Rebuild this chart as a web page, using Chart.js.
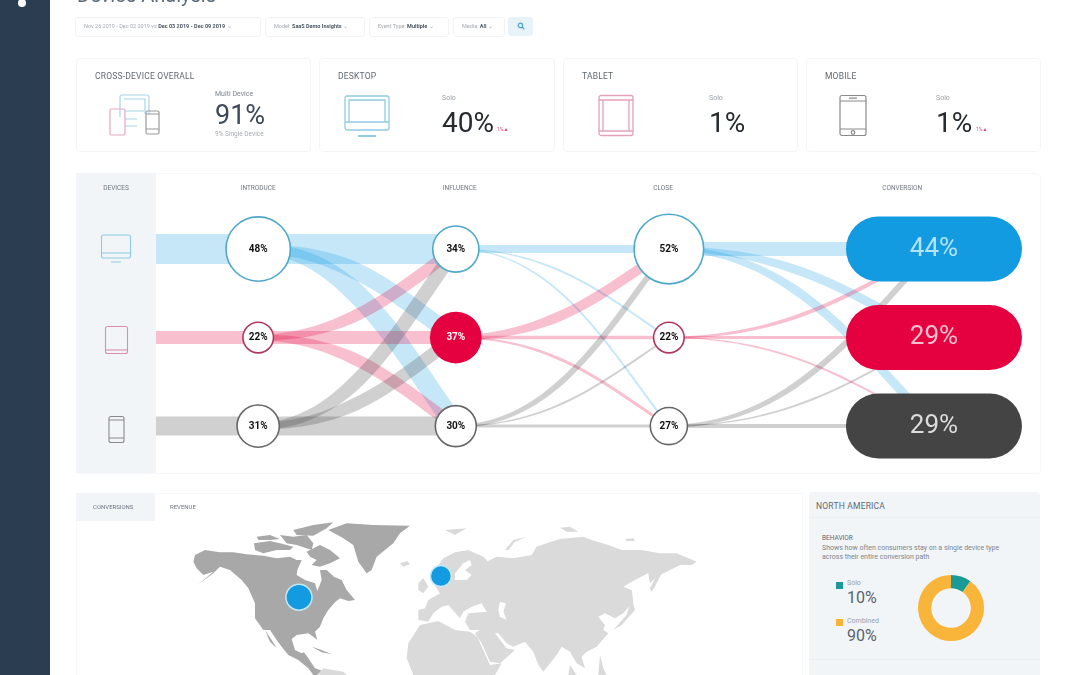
<!DOCTYPE html>
<html>
<head>
<meta charset="utf-8">
<title>Device Analysis</title>
<script src="https://cdn.jsdelivr.net/npm/chart.js@4"></script>
<style>
  html, body { margin: 0; padding: 0; width: 1080px; height: 675px; overflow: hidden; background: #fff; }
  #page { position: absolute; left: 0; top: 0; width: 1080px; height: 675px; overflow: hidden; font-family: Roboto, sans-serif; filter: blur(0.45px); }
  .box, .t, canvas, svg { position: absolute; }
  .t { white-space: nowrap; line-height: 1; }
  .card { top: 58px; height: 92px; width: 233px; border: 1px solid #f4f5f7; border-radius: 4px; }
  .pill { top: 17px; height: 18px; border: 1px solid #f1f3f5; border-radius: 3px; }
  .pill span { position: absolute; left: 8px; top: 6px; font-size: 5.5px; line-height: 1; color: #a2a9b1; white-space: nowrap; }
  .pill b { color: #4b5663; font-weight: 700; }
  .head { font-size: 8.5px; color: #5f6873; letter-spacing: .2px; }
  .solo { font-size: 7px; color: #9aa1a8; }
  .big { font-size: 28px; color: #262b30; }
  .delta { font-size: 5px; color: #e0476f; }
</style>
</head>
<body>
<div id="page">
  <div class="box" style="left:0;top:0;width:50px;height:675px;background:#2b3d50"></div>
  <div class="box" style="left:18px;top:-1px;width:8px;height:8px;border-radius:4px;background:#fff"></div>
  <div class="t" style="left:77px;top:-15px;font-size:20px;color:#5b6b7b">Device Analysis</div>

  <div class="box pill" style="left:75px;width:184px"><span>Nov 26 2019 - Dec 02 2019 vs <b>Dec 03 2019 - Dec 09 2019</b> &#8964;</span></div>
  <div class="box pill" style="left:265px;width:98px"><span>Model: <b>SaaS Demo Insights</b> &#8964;</span></div>
  <div class="box pill" style="left:369px;width:78px"><span>Event Type: <b>Multiple</b> &#8964;</span></div>
  <div class="box pill" style="left:453px;width:50px"><span>Media: <b>All</b> &#8964;</span></div>
  <div class="box" style="left:508px;top:17px;width:25px;height:19px;border-radius:3px;background:#e8f3f9"></div>
  <svg style="left:517px;top:22px" width="8" height="8" fill="none" stroke="#4aa3cf" stroke-width="1.2"><circle cx="3.4" cy="3.4" r="2.2"/><path d="M5 5l2.4 2.4"/></svg>

  <div class="box card" style="left:76px"></div>
  <div class="box card" style="left:319px;width:234px"></div>
  <div class="box card" style="left:563px"></div>
  <div class="box card" style="left:806px"></div>

  <div class="t head" style="left:95px;top:72px">CROSS-DEVICE OVERALL</div>
  <div class="t solo" style="left:215px;top:91px;color:#7d858d">Multi Device</div>
  <div class="t" style="left:215px;top:102px;font-size:27px;color:#3b4a5a">91%</div>
  <div class="t" style="left:215px;top:131px;font-size:6.5px;color:#a5abb1">9% Single Device</div>
  <svg style="left:105px;top:94px" width="60" height="44" fill="none" stroke-width="1.2">
    <path d="M15 23V3a2 2 0 0 1 2-2h25a2 2 0 0 1 2 2v17M19 5h21v15M20 17h19M20 25h12M20 32h12" stroke="#a8d6ec"/>
    <rect x="5" y="15" width="15" height="26" rx="1.5" stroke="#e3a9bf"/>
    <rect x="41" y="17" width="13" height="23" rx="1.5" stroke="#9a9a9a"/>
    <path d="M41 20h13M41 35h13" stroke="#9a9a9a"/>
  </svg>

  <div class="t head" style="left:338px;top:72px">DESKTOP</div>
  <div class="t solo" style="left:442px;top:95px">Solo</div>
  <div class="t big" style="left:442px;top:109px">40%</div>
  <div class="t delta" style="left:497px;top:127px">1%&#9650;</div>
  <svg style="left:344px;top:95px" width="46" height="44" fill="none" stroke="#8fcbe4" stroke-width="1.3">
    <rect x="1" y="1" width="44" height="34" rx="2"/><path d="M5 5h36v22H5zM1 27h44" />
    <path d="M14 41h18" stroke-width="2"/>
  </svg>

  <div class="t head" style="left:582px;top:72px">TABLET</div>
  <div class="t solo" style="left:709px;top:95px">Solo</div>
  <div class="t big" style="left:709px;top:109px">1%</div>
  <svg style="left:598px;top:94px" width="37" height="44" fill="none" stroke="#e3a3bb" stroke-width="1.3">
    <rect x="1" y="1.5" width="34" height="40" rx="2"/><path d="M1 6h34M1 37h34M5 6v31M31 6v31"/>
  </svg>

  <div class="t head" style="left:825px;top:72px">MOBILE</div>
  <div class="t solo" style="left:936px;top:95px">Solo</div>
  <div class="t big" style="left:936px;top:109px">1%</div>
  <div class="t delta" style="left:976px;top:127px">1%&#9650;</div>
  <svg style="left:839px;top:94px" width="28" height="44" fill="none" stroke="#8a8a8a" stroke-width="1.2">
    <rect x="1" y="1.5" width="26" height="40" rx="2"/><path d="M1 7h26M1 35h26M10 4.2h8"/><circle cx="14" cy="38.5" r="1.8"/>
  </svg>

  <div class="box" style="left:76px;top:173px;width:963px;height:299px;border:1px solid #f6f7f8;border-radius:4px"></div>
  <div class="box" style="left:76px;top:173px;width:80px;height:300px;background:#f1f5f8"></div>
  <svg style="left:100px;top:233px" width="32" height="32" fill="none" stroke="#8fcbe4" stroke-width="1.1">
    <rect x="1.5" y="2" width="29" height="23" rx="2"/><path d="M2 20h28M11 29h10"/>
  </svg>
  <svg style="left:104px;top:325px" width="25" height="30" fill="none" stroke="#dc8fac" stroke-width="1.1">
    <rect x="1.5" y="1.5" width="22" height="27" rx="2"/><path d="M2 25h21"/>
  </svg>
  <svg style="left:107px;top:415px" width="20" height="29" fill="none" stroke="#8a8a8a" stroke-width="1.1">
    <rect x="2" y="1.5" width="15" height="26" rx="2"/><path d="M2 5h15M2 23h15"/>
  </svg>
  <canvas id="flowChart" width="964" height="300" style="left:76px;top:173px"></canvas>

  <div class="box" style="left:76px;top:493px;width:725px;height:190px;border:1px solid #f7f8f9"></div>
  <div class="box" style="left:76px;top:493px;width:79px;height:28px;background:#f1f5f8"></div>
  <div class="t" style="left:93px;top:504px;font-size:6px;color:#6d7680">CONVERSIONS</div>
  <div class="t" style="left:170px;top:504px;font-size:6px;color:#6d7680">REVENUE</div>

  <svg style="left:0;top:0" width="1080" height="675">
    <g transform="translate(180 515) scale(.3333)" fill="#a8a8a8">
      <path d="M45 120L75 105 120 112 160 112 200 118 250 122 290 130 330 125 350 135 365 135 352 165 350 180 375 195 405 205 412 228 425 195 420 165 440 165 462 185 485 195 500 225 525 255 505 258 480 250 465 262 445 285 430 310 420 335 405 350 412 375 400 365 385 355 350 360 335 372 345 405 365 415 372 412 385 430 405 460 435 470 430 480 400 480 385 460 355 435 325 420 305 395 290 375 270 345 250 345 225 310 225 265 205 220 185 195 150 165 120 155 100 175 55 208 100 170 70 180 50 160 40 140Z"/>
      <path d="M255 345L275 375 290 400 270 380Z"/>
      <path d="M222 85L270 78 300 85 340 95 330 105 290 105 250 115 225 105Z"/>
      <path d="M230 65L270 60 300 72 270 75 235 75Z"/>
      <path d="M300 60L340 65 380 60 400 85 395 105 350 90 320 85Z"/>
      <path d="M340 45L400 30 460 22 440 40 400 62 350 60Z"/>
      <path d="M380 110L420 90 450 105 480 130 450 145 420 155 395 150 410 135 390 125Z"/>
      <path d="M445 45L500 25 580 30 690 32 660 55 640 85 590 125 575 165 560 175 535 140 520 90 490 70Z"/>
      <path d="M395 395L425 405 455 418 425 412Z"/>
    </g>
    <g transform="translate(180 515) scale(.3333)" fill="#dadada">
      <path d="M430 460L490 470 500 480 410 480Z"/>
    </g>
    <g transform="translate(400 515) scale(.3333)" fill="#dadada">
      <path d="M55 285L75 280 85 255 120 235 100 205 100 170 130 130 165 112 205 105 250 125 265 140 240 150 290 125 340 130 395 120 410 95 440 85 480 72 550 65 575 75 625 90 665 105 725 105 780 115 830 115 890 140 875 150 840 150 800 170 770 185 750 205 745 175 705 195 670 215 695 225 700 260 670 295 645 310 615 295 595 305 615 330 610 345 625 355 590 395 560 410 545 425 555 460 530 445 510 410 485 395 470 420 430 470 415 450 400 410 375 380 340 395 320 385 295 355 285 355 320 400 345 405 300 445 270 440 245 385 225 355 240 345 210 345 195 320 205 295 260 290 245 265 215 275 190 290 180 310 145 270 125 275 100 295 85 320 55 315Z"/>
      <path d="M60 330L115 318 165 345 210 350 232 365 270 450 305 445 285 480 40 480 20 430 25 385Z"/>
      <path d="M0 145L22 138 30 148 10 155Z"/>
      <path d="M55 205L70 190 85 215 70 235 55 225Z"/>
      <path d="M640 345L680 300 695 250 705 285 665 330Z"/>
      <path d="M750 220L775 170 785 175 765 215 755 230Z"/>
      <path d="M135 45L200 40 165 60Z"/>
      <path d="M480 38L510 35 535 50 500 50Z"/>
      <path d="M315 105L340 75 380 65 345 80 325 105Z"/>
      <path d="M675 72L700 70 705 78 680 78Z"/>
      <path d="M600 420L610 460 620 480 595 480Z"/>
      <path d="M510 450L530 480 505 480Z"/>
      <path d="M300 260L318 265 310 290 320 315 300 305 295 285Z" fill="#fff"/>
      <path d="M165 175L190 145 210 135 215 150 195 165 215 180 200 195 165 195Z" fill="#fff"/>
    </g>
  </svg>
  <canvas id="mapChart" width="724" height="154" style="left:76px;top:521px"></canvas>

  <div class="box" style="left:809px;top:492px;width:231px;height:190px;background:#f1f5f8;border-radius:4px"></div>
  <div class="box" style="left:809px;top:517px;width:231px;height:1px;background:#eaeff3"></div>
  <div class="box" style="left:809px;top:659px;width:231px;height:1px;background:#eaeff3"></div>
  <div class="t" style="left:816px;top:502px;font-size:8.5px;color:#5f6873;letter-spacing:.2px">NORTH AMERICA</div>
  <div class="t" style="left:822px;top:535px;font-size:6.5px;color:#5f6873">BEHAVIOR</div>
  <div class="t" style="left:822px;top:545px;font-size:7px;color:#7d858d">Shows how often consumers stay on a single device type</div>
  <div class="t" style="left:822px;top:554px;font-size:7px;color:#7d858d">across their entire conversion path</div>
  <div class="box" style="left:836px;top:582px;width:7px;height:7px;background:#1a9a96"></div>
  <div class="t" style="left:847px;top:580px;font-size:7px;color:#9aa1a8">Solo</div>
  <div class="t" style="left:847px;top:590px;font-size:16px;color:#5a626a">10%</div>
  <div class="box" style="left:836px;top:619px;width:7px;height:7px;background:#f9b53a"></div>
  <div class="t" style="left:847px;top:618px;font-size:7px;color:#9aa1a8">Combined</div>
  <div class="t" style="left:847px;top:628px;font-size:16px;color:#5a626a">90%</div>
  <canvas id="behaviorChart" width="80" height="80" style="left:911px;top:568px"></canvas>
</div>

<script>
//Labels for charts
const stageLabels = ["DEVICES", "INTRODUCE", "INFLUENCE", "CLOSE", "CONVERSION"];
const behaviorLabels = ["Solo", "Combined"];

//Data for charts
const introduceShare = [48, 22, 31];
const influenceShare = [34, 37, 30];
const closeShare = [52, 22, 27];
const conversionShare = [44, 29, 29];
const behaviorShare = [10, 90];

//Flow widths, one row per device, one column per device it goes to
const entryFlows = [30, 13, 19];
const introduceFlows = [[30, 17, 20], [12, 13, 12], [14, 13, 19]];
const influenceFlows = [[8, 2, 2], [10, 3.5, 3], [6, 2, 3]];
const closeFlows = [[14, 9, 9], [4, 3, 2], [6, 2, 4]];

//Map markers
const markerLon = [-97, 2];
const markerLat = [45, 55];
const markerSize = [13, 10.5];

//Styles
const flowColors = ["rgba(18,155,224,.24)", "rgba(229,0,63,.25)", "rgba(68,68,68,.25)"];
const ringColors = ["#4ea9c9", "#b0365f", "#666666"];
const pillColors = ["#129be0", "#e5003f", "#444444"];
const pillText = ["#b4e3f8", "#f9c0d0", "#dcdcdc"];

//x axis runs 0-100 over the panel
const nodeX = [8.3, 18.9, 39.4, 61.5, 89];
const headerX = [4.15, 18.9, 39.8, 60.9, 85.7];

const nodeData = (values, stage) => values.map((v, row) => ({ x: nodeX[stage], y: row, share: v }));

const stageDataset = (values, stage) => ({
  type: "scatter",
  data: nodeData(values, stage),
  pointRadius: (ctx) => ctx.raw.share * 0.65 + 1,
  pointHoverRadius: (ctx) => ctx.raw.share * 0.65 + 1,
  pointBackgroundColor: (ctx) => (stage === 2 && ctx.dataIndex === 1 ? pillColors[1] : "#ffffff"),
  pointBorderColor: (ctx) => (stage === 2 && ctx.dataIndex === 1 ? pillColors[1] : ringColors[ctx.dataIndex]),
  pointBorderWidth: 1.6,
});

//Draws the ribbons under the nodes, curved ones pinch in at their source
const flowPlugin = {
  id: "flows",
  beforeDatasetsDraw(chart) {
    const { ctx, scales } = chart;
    const ribbon = (x0, row0, x1, row1, width, color) => {
      const a = scales.x.getPixelForValue(x0);
      const b = scales.x.getPixelForValue(x1);
      const y0 = scales.y.getPixelForValue(row0);
      const y1 = scales.y.getPixelForValue(row1);
      const c1 = a + (b - a) * 0.47;
      const c2 = a + (b - a) * 0.72;
      const c3 = y0 + (y1 - y0) * 0.57;
      const upper = [];
      const lower = [];
      for (let i = 0; i <= 30; i++) {
        const t = i / 30;
        const s = 1 - t;
        const px = s * s * s * a + 3 * s * s * t * c1 + 3 * s * t * t * c2 + t * t * t * b;
        const py = s * s * s * y0 + 3 * s * s * t * y0 + 3 * s * t * t * c3 + t * t * t * y1;
        const dx = 3 * s * s * (c1 - a) + 6 * s * t * (c2 - c1) + 3 * t * t * (b - c2);
        const dy = 3 * s * s * (y0 - y0) + 6 * s * t * (c3 - y0) + 3 * t * t * (y1 - c3);
        const len = Math.hypot(dx, dy) || 1;
        const half = (width / 2) * (row0 === row1 ? 1 : 0.45 + 0.55 * Math.min(1, t / 0.4));
        upper.push([px - (dy / len) * half, py + (dx / len) * half]);
        lower.push([px + (dy / len) * half, py - (dx / len) * half]);
      }
      ctx.beginPath();
      upper.concat(lower.reverse()).forEach((p, i) => (i ? ctx.lineTo(p[0], p[1]) : ctx.moveTo(p[0], p[1])));
      ctx.closePath();
      ctx.fillStyle = color;
      ctx.fill();
    };
    ctx.save();
    entryFlows.forEach((w, row) => ribbon(nodeX[0], row, nodeX[1], row, w, flowColors[row]));
    [introduceFlows, influenceFlows, closeFlows].forEach((flows, i) => {
      flows.forEach((widths, from) => {
        widths.forEach((w, to) => ribbon(nodeX[i + 1], from, nodeX[i + 2], to, w, flowColors[from]));
      });
    });
    ctx.restore();
  },
  afterDatasetsDraw(chart) {
    const { ctx } = chart;
    ctx.save();
    ctx.textAlign = "center";
    ctx.textBaseline = "middle";
    chart.data.datasets.forEach((ds, i) => {
      chart.getDatasetMeta(i).data.forEach((pt, row) => {
        const share = ds.data[row].share + "%";
        if (i === 3) {
          ctx.beginPath();
          ctx.roundRect(pt.x - 88, pt.y - 32.5, 176, 65, 32.5);
          ctx.fillStyle = pillColors[row];
          ctx.fill();
          ctx.font = "400 26px Roboto";
          ctx.fillStyle = pillText[row];
          ctx.fillText(share, pt.x, pt.y);
        } else {
          ctx.font = "700 10px Roboto";
          ctx.fillStyle = i === 1 && row === 1 ? "#ffffff" : "#111111";
          ctx.fillText(share, pt.x, pt.y);
        }
      });
    });
    ctx.restore();
  },
};

//Config for flow chart
const config_flow = {
  type: "scatter",
  data: {
    datasets: [
      stageDataset(introduceShare, 1),
      stageDataset(influenceShare, 2),
      stageDataset(closeShare, 3),
      { type: "scatter", data: nodeData(conversionShare, 4), pointRadius: 0, pointHoverRadius: 0 },
    ],
  },
  options: {
    responsive: false,
    animation: false,
    layout: { padding: 0, autoPadding: false },
    plugins: { legend: { display: false }, tooltip: { enabled: false } },
    scales: {
      x: {
        type: "linear",
        position: "top",
        min: 0,
        max: 100,
        afterFit: (scale) => { scale.height = 30; },
        afterBuildTicks: (scale) => { scale.ticks = headerX.map((value) => ({ value })); },
        grid: { display: false, drawTicks: false },
        border: { display: false },
        ticks: {
          padding: 11,
          autoSkip: false,
          maxRotation: 0,
          color: "#6f7780",
          font: { family: "Roboto", size: 6.5 },
          callback: (value, i) => stageLabels[i],
        },
      },
      y: { type: "linear", display: false, reverse: true, min: -0.52, max: 2.53 },
    },
  },
  plugins: [flowPlugin],
};

//Config for map markers
const config_map = {
  type: "bubble",
  data: {
    datasets: [
      {
        data: markerLon.map((lon, i) => ({ x: lon, y: markerLat[i], r: markerSize[i] })),
        backgroundColor: "#129be0",
        borderColor: "#c4e9f8",
        borderWidth: 1.5,
      },
    ],
  },
  options: {
    responsive: false,
    animation: false,
    layout: { autoPadding: false },
    plugins: { legend: { display: false }, tooltip: { enabled: false } },
    scales: {
      x: { display: false, min: -252.5, max: 252.5 },
      y: { display: false, min: 8, max: 81.2 },
    },
  },
};

//Config for behavior doughnut
const config_behavior = {
  type: "doughnut",
  data: {
    labels: behaviorLabels,
    datasets: [{ data: behaviorShare, backgroundColor: ["#1a9a96", "#f9b53a"], borderWidth: 0 }],
  },
  options: {
    responsive: false,
    animation: false,
    cutout: "60%",
    layout: { padding: 7 },
    plugins: { legend: { display: false }, tooltip: { enabled: false } },
  },
};

var flowChart = new Chart(document.getElementById("flowChart"), config_flow);
var mapChart = new Chart(document.getElementById("mapChart"), config_map);
var behaviorChart = new Chart(document.getElementById("behaviorChart"), config_behavior);
</script>
</body>
</html>
